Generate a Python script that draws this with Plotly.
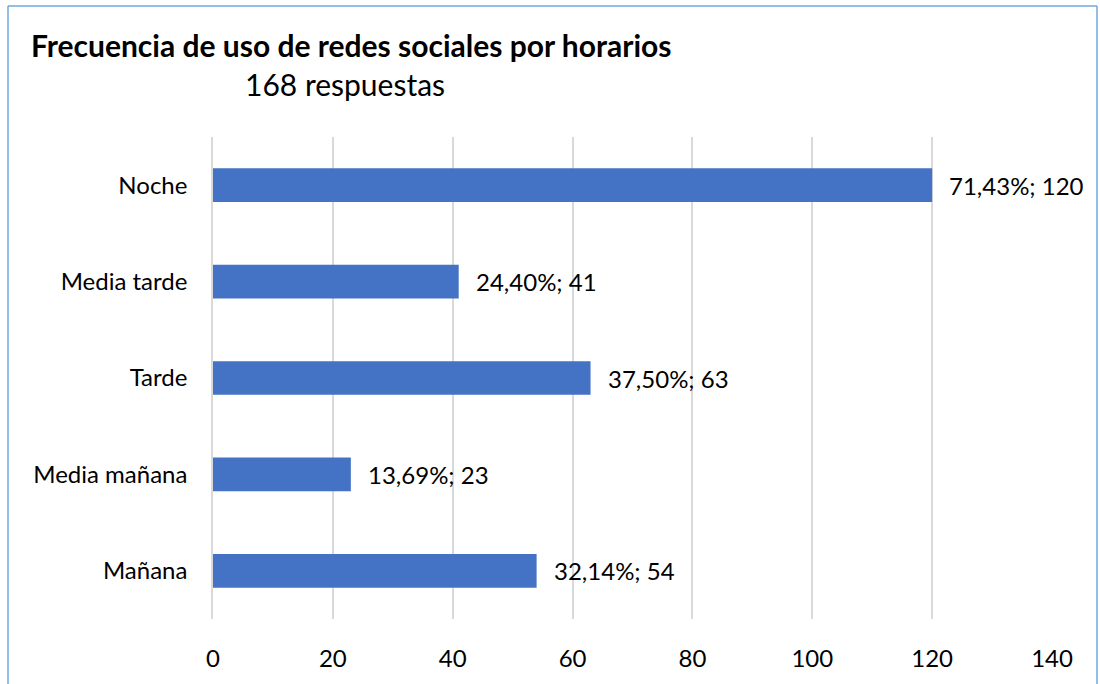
import plotly.graph_objects as go

# Time-of-day categories (bottom to top) and response counts
categorias = ["Mañana", "Media mañana", "Tarde", "Media tarde", "Noche"]
respuestas = [54, 23, 63, 41, 120]
porcentajes = ["32,14%", "13,69%", "37,50%", "24,40%", "71,43%"]
ticks_x = [0, 20, 40, 60, 80, 100, 120, 140]

FONT = "Lato, Calibri, Carlito, sans-serif"
W, H = 1100, 684
ML, MR, MT, MB = 213, 48, 137, 65
PW = W - ML - MR
PH = H - MT - MB


def px_x(p):
    return (p - ML) / PW


def px_y(p):
    return (H - MB - p) / PH


fig = go.Figure()
fig.add_trace(go.Bar(
    y=categorias,
    x=respuestas,
    orientation="h",
    marker=dict(color="#4472C4", line=dict(width=0)),
    width=0.35,
    hoverinfo="skip",
))

# value labels to the right of each bar
for cat, val, pct in zip(categorias, respuestas, porcentajes):
    fig.add_annotation(
        x=val, y=cat, xref="x", yref="y",
        text=f"{pct}; {val}", showarrow=False,
        xanchor="left", xshift=15,
        font=dict(family=FONT, size=24, color="#000000"),
    )

# title and subtitle
fig.add_annotation(
    x=px_x(29), y=px_y(45), xref="paper", yref="paper",
    text="<b>Frecuencia de uso de redes sociales por horarios</b>",
    showarrow=False, xanchor="left", yanchor="middle",
    font=dict(family=FONT, size=30, color="#000000"),
)
fig.add_annotation(
    x=px_x(345), y=px_y(84), xref="paper", yref="paper",
    text="168 respuestas",
    showarrow=False, xanchor="center", yanchor="middle",
    font=dict(family=FONT, size=30, color="#000000"),
)

# chart frame (left, top, right edges)
frame = dict(color="#6FA8DC", width=1.5)
fig.add_shape(type="line", xref="paper", yref="paper",
              x0=px_x(8), x1=px_x(8), y0=px_y(6), y1=px_y(700), line=frame)
fig.add_shape(type="line", xref="paper", yref="paper",
              x0=px_x(8), x1=px_x(1097), y0=px_y(6), y1=px_y(6), line=frame)
fig.add_shape(type="line", xref="paper", yref="paper",
              x0=px_x(1097), x1=px_x(1097), y0=px_y(6), y1=px_y(700), line=frame)

fig.update_layout(
    width=W, height=H,
    margin=dict(l=ML, r=MR, t=MT, b=MB, pad=0),
    paper_bgcolor="white", plot_bgcolor="white",
    showlegend=False,
    font=dict(family=FONT, size=24, color="#000000"),
    xaxis=dict(
        range=[0, 140], tickvals=ticks_x, ticktext=[str(t) for t in ticks_x],
        showgrid=True, gridcolor="#D9D9D9", gridwidth=1.5,
        zeroline=False, showline=False, ticks="",
        ticklabelstandoff=23, fixedrange=True,
    ),
    yaxis=dict(
        categoryorder="array", categoryarray=categorias,
        range=[-0.5, 4.5], showgrid=False, zeroline=False,
        showline=True, linecolor="#D9D9D9", linewidth=1.5,
        ticks="", ticklabelstandoff=19, fixedrange=True,
    ),
)

fig.write_html("out.html")
